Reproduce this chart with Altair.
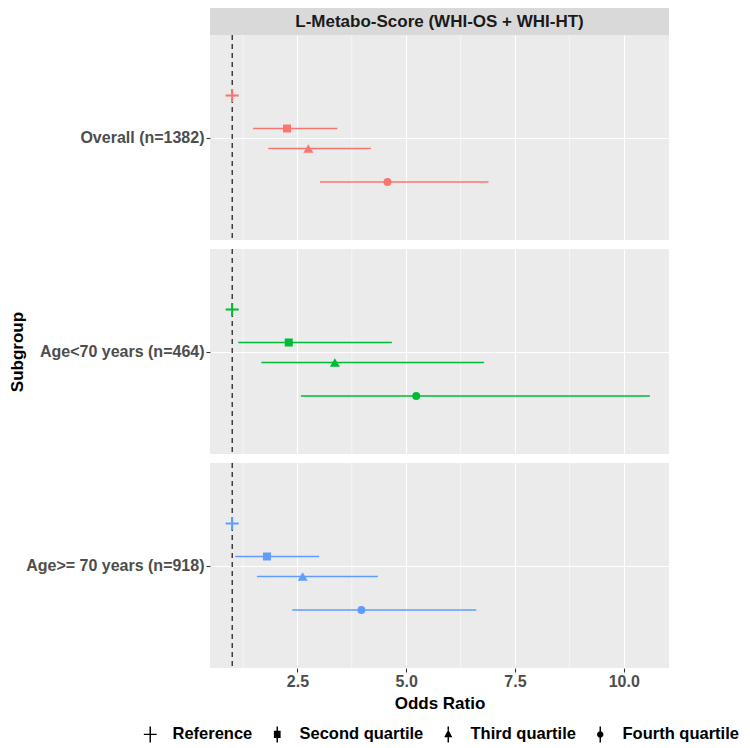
import altair as alt
import pandas as pd

# ---------------- data ----------------
STRIP_TITLE = "L-Metabo-Score (WHI-OS + WHI-HT)"
SUBGROUPS = ["Overall (n=1382)", "Age<70 years (n=464)", "Age>= 70 years (n=918)"]
QUARTILES = ["Reference", "Second quartile", "Third quartile", "Fourth quartile"]

OR_OVERALL = [1.0, 2.26, 2.75, 4.57]
LO_OVERALL = [1.0, 1.48, 1.83, 3.02]
HI_OVERALL = [1.0, 3.42, 4.19, 6.89]

OR_U70 = [1.0, 2.30, 3.36, 5.23]
LO_U70 = [1.0, 1.14, 1.67, 2.58]
HI_U70 = [1.0, 4.67, 6.79, 10.60]

OR_O70 = [1.0, 1.80, 2.62, 3.97]
LO_O70 = [1.0, 1.07, 1.57, 2.38]
HI_O70 = [1.0, 3.00, 4.35, 6.61]

REF_LINE = [1.0]
X_TICKS = [2.5, 5.0, 7.5, 10.0]
X_MINOR = [1.25, 3.75, 6.25, 8.75]
X_DOMAIN = [0.49, 11.04]

# ---------------- style ----------------
COLORS = ["#F8766D", "#00BA38", "#619CFF"]
DODGE = {"Reference": -42, "Second quartile": -9, "Third quartile": 11, "Fourth quartile": 44.5}
PANEL_SHAPES = {
    "Reference": ("M-1,0H1M0,-1V1", 170, False),
    "Second quartile": ("square", 64, True),
    "Third quartile": ("triangle-up", 100, True),
    "Fourth quartile": ("circle", 62, True),
}
LW = 0.09  # half width of legend key line (path units)
LEGEND_PATHS = [
    f"M-0.8,-{LW}H0.8V{LW}H-0.8Z M-{LW},-1H{LW}V-{LW}H-{LW}Z M-{LW},{LW}H{LW}V1H-{LW}Z",
    f"M-0.42,-0.45H0.42V0.45H-0.42Z M-{LW},-1H{LW}V-0.45H-{LW}Z M-{LW},0.45H{LW}V1H-{LW}Z",
    f"M0,-0.6L0.5,0.35H-0.5Z M-{LW},-1H{LW}V-0.55H-{LW}Z M-{LW},0.35H{LW}V1H-{LW}Z",
    f"M0.4,0A0.4,0.4,0,1,1,-0.4,0A0.4,0.4,0,1,1,0.4,0Z M-{LW},-1H{LW}V-0.39H-{LW}Z M-{LW},0.39H{LW}V1H-{LW}Z",
]
FONT = "Liberation Sans"
W, H = 459, 205
STRIP_H = 27

ORS = [OR_OVERALL, OR_U70, OR_O70]
LOS = [LO_OVERALL, LO_U70, LO_O70]
HIS = [HI_OVERALL, HI_U70, HI_O70]

dodge_expr = "{" + ",".join(f"'{k}':{v}" for k, v in DODGE.items()) + "}[datum.quartile]"
xscale = alt.Scale(domain=X_DOMAIN, nice=False, zero=False)


def panel(i):
    bottom = i == len(SUBGROUPS) - 1
    df = pd.DataFrame({
        "subgroup": SUBGROUPS[i],
        "quartile": QUARTILES,
        "or": ORS[i],
        "lo": LOS[i],
        "hi": HIS[i],
    })
    if bottom:
        xaxis = alt.Axis(values=X_TICKS, format=".1f", title="Odds Ratio", grid=True,
                         labels=True, ticks=True, domain=False, tickSize=4,
                         labelPadding=1, titlePadding=6)
    else:
        xaxis = alt.Axis(values=X_TICKS, grid=True, labels=False, ticks=False,
                         domain=False, title=None)
    yaxis = alt.Axis(title="Subgroup" if i == 1 else " ", grid=True, domain=False,
                     tickSize=4, labelPadding=2, minExtent=183, maxExtent=183,
                     titlePadding=1)
    color = COLORS[i]
    base = alt.Chart(df).transform_calculate(off=dodge_expr)
    yenc = alt.Y("subgroup:N", scale=alt.Scale(type="point", padding=0.5), axis=yaxis)
    yoff = alt.YOffset("off:Q", scale=None)

    layers = []
    minor = alt.Chart(pd.DataFrame({"v": X_MINOR})).mark_rule(
        color="white", strokeWidth=0.55).encode(
        x=alt.X("v:Q", scale=xscale, axis=xaxis))
    layers.append(minor)
    ref = alt.Chart(pd.DataFrame({"v": REF_LINE})).mark_rule(
        color="black", strokeWidth=1.1, strokeDash=[5, 4]).encode(
        x=alt.X("v:Q", scale=xscale, axis=xaxis))
    layers.append(ref)
    ci = base.mark_rule(color=color, strokeWidth=1.4).encode(
        x=alt.X("lo:Q", scale=xscale, axis=xaxis), x2="hi:Q", y=yenc, yOffset=yoff)
    layers.append(ci)
    for q in QUARTILES:
        shape, size, filled = PANEL_SHAPES[q]
        m = base.transform_filter(alt.datum.quartile == q).mark_point(
            shape=shape, size=size, filled=filled, opacity=1, color=color,
            strokeWidth=2).encode(
            x=alt.X("or:Q", scale=xscale, axis=xaxis), y=yenc, yOffset=yoff)
        layers.append(m)
    if i == 0:
        sdf = pd.DataFrame({"t": [STRIP_TITLE]})
        strip = alt.Chart(sdf).mark_rect(color="#D9D9D9").encode(
            x=alt.value(0), x2=alt.value(W), y=alt.value(-STRIP_H), y2=alt.value(0))
        stext = alt.Chart(sdf).mark_text(font=FONT, fontSize=17, fontWeight="bold",
                                         color="#1A1A1A").encode(
            x=alt.value(W / 2), y=alt.value(-STRIP_H / 2), text="t:N")
        layers += [strip, stext]
    if bottom:
        leg = base.mark_point(size=0, filled=True, opacity=1, color="black").encode(
            x=alt.value(0), y=alt.value(0),
            shape=alt.Shape("quartile:N",
                            scale=alt.Scale(domain=QUARTILES, range=LEGEND_PATHS),
                            legend=alt.Legend(title=None, orient="none", direction="horizontal",
                                              legendX=-68, legendY=691,
                                              labelFontSize=16.5, labelFont=FONT,
                                              labelFontWeight="bold", labelColor="black",
                                              symbolSize=256, symbolStrokeWidth=0,
                                              symbolFillColor="black",
                                              labelOffset=14, columnPadding=16)))
        layers.append(leg)
    return alt.layer(*layers).properties(width=W, height=H)


chart = alt.vconcat(*[panel(i) for i in range(3)], spacing=7).properties(
    padding={"left": 0, "top": 0, "right": 0, "bottom": 5}
).configure_view(fill="#EBEBEB", strokeWidth=0).configure_axis(
    gridColor="white", gridWidth=1.1, tickColor="#333333", tickWidth=1.1,
    labelFont=FONT, labelFontSize=16, labelFontWeight="bold", labelColor="#4D4D4D",
    titleFont=FONT, titleFontSize=17, titleFontWeight="bold", titleColor="black"
)

chart.save("out.html", embed_options={"renderer": "svg", "actions": False})
